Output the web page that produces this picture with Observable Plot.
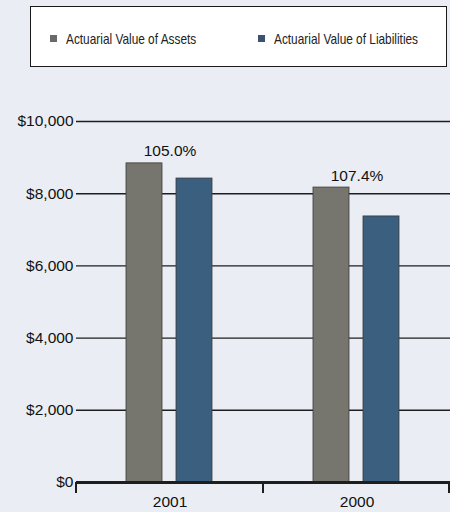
<!DOCTYPE html>
<html>
<head>
<meta charset="utf-8">
<script src="https://cdn.jsdelivr.net/npm/d3@7"></script>
<script src="https://cdn.jsdelivr.net/npm/@observablehq/plot@0.6"></script>
<style>
  html, body { margin: 0; padding: 0; background: #eaedf3; }
  #wrap { position: relative; width: 450px; height: 512px; overflow: hidden; }
  #legend {
    position: absolute; left: 30px; top: 6px; width: 415px; height: 59px;
    background: #ffffff; border: 1.5px solid #1a1a1a;
    font-family: "Liberation Sans", Arial, sans-serif;
    font-size: 15px; color: #222;
  }
  .item { position: absolute; top: 23px; display: flex; align-items: center; white-space: nowrap; }
  .sw { width: 7px; height: 7px; margin-right: 9px; flex: none; }
  .tx { display: inline-block; transform: scaleX(0.79); transform-origin: 0 50%; }
  #chart { position: absolute; left: 0; top: 0; }
</style>
</head>
<body>
<div id="wrap">
  <div id="chart"></div>
  <div id="legend"></div>
</div>
<script>
const years = ["2001", "2000"];
const seriesNames = ["Actuarial Value of Assets", "Actuarial Value of Liabilities"];
const assets = [8840, 8170];
const liabilities = [8420, 7370];
const ratioLabels = ["105.0%", "107.4%"];
const yTicks = [0, 2000, 4000, 6000, 8000, 10000];
const colors = ["#76766f", "#3b5f7e"];
const legendColors = ["#6a6a68", "#3b5270"];

const rows = years.flatMap((yr, i) => [
  {year: yr, series: seriesNames[0], value: assets[i]},
  {year: yr, series: seriesNames[1], value: liabilities[i]}
]);
const labelRows = years.map((yr, i) => ({year: yr, top: Math.max(assets[i], liabilities[i]), text: ratioLabels[i]}));

const fmt = d => "$" + d3.format(",")(d);

const chart = Plot.plot({
  width: 450,
  height: 512,
  marginTop: 121,
  marginBottom: 30,
  marginLeft: 75,
  marginRight: 0,
  style: {background: "transparent", fontFamily: "'Liberation Sans', Arial, sans-serif", fontSize: "15.5px", color: "#111"},
  fx: {domain: years, paddingInner: 0, paddingOuter: 0, label: null, axis: null},
  x: {domain: seriesNames, paddingInner: 0.2745, paddingOuter: 0.98, axis: null},
  y: {domain: [0, 10000], label: null, axis: null},
  color: {domain: seriesNames, range: colors},
  marks: [
    Plot.gridY(yTicks.filter(d => d > 0), {stroke: "#1e1e1e", strokeOpacity: 1, strokeWidth: 1.4}),
    Plot.axisY(yTicks, {tickSize: 0, tickPadding: 3, tickFormat: fmt, label: null, fontSize: 15.5}),
    Plot.barY(rows, {fx: "year", x: "series", y: "value", fill: "series", stroke: "#3a3a3a", strokeWidth: 0.8}),
    Plot.ruleY([0], {stroke: "#1e1e1e", strokeWidth: 3}),
    Plot.text(labelRows, {fx: "year", y: "top", text: "text", dy: -12, fontSize: 15.5, fill: "#111"}),
    Plot.axisFx({anchor: "bottom", tickSize: 0, tickPadding: 13, label: null, fontSize: 15.5})
  ]
});
document.getElementById("chart").appendChild(chart);

// boundary tick marks on the category axis, positioned from Plot's own scales
const fxs = chart.scale("fx");
const ys = chart.scale("y");
const y0 = ys.apply(0);
const edges = years.map(yr => fxs.apply(yr));
edges.push(fxs.apply(years[years.length - 1]) + fxs.bandwidth);
const svg = d3.select(chart.tagName.toLowerCase() === "svg" ? chart : chart.querySelector("svg"));
svg.append("g").selectAll("line").data(edges).join("line")
  .attr("x1", d => Math.min(d, 449)).attr("x2", d => Math.min(d, 449))
  .attr("y1", y0).attr("y2", y0 + 11)
  .attr("stroke", "#1e1e1e").attr("stroke-width", 2);

// legend
const legend = document.getElementById("legend");
const itemLefts = [19, 227];
seriesNames.forEach((s, i) => {
  const it = document.createElement("div");
  it.className = "item";
  it.style.left = itemLefts[i] + "px";
  const sw = document.createElement("span");
  sw.className = "sw";
  sw.style.background = legendColors[i];
  const t = document.createElement("span");
  t.className = "tx";
  t.textContent = s;
  it.appendChild(sw); it.appendChild(t);
  legend.appendChild(it);
});
</script>
</body>
</html>
